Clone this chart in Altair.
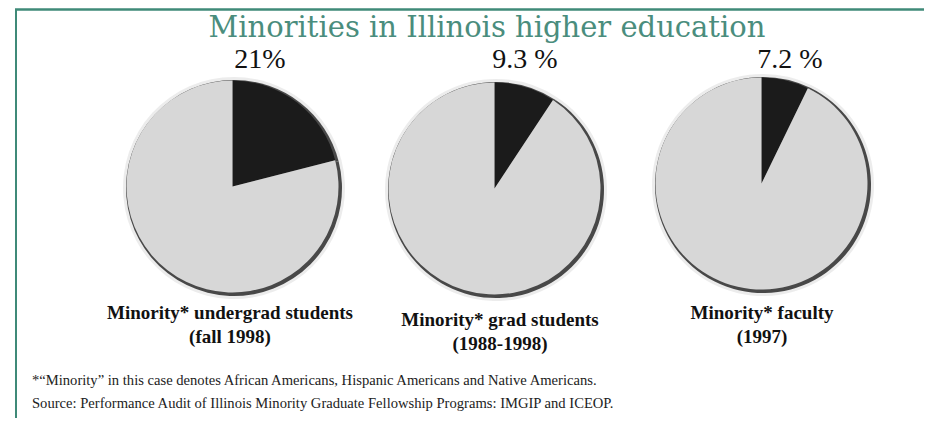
import altair as alt
import pandas as pd

# ---- data ----
groups = ["undergrad", "grad", "faculty"]
minority_pct = [21.0, 9.3, 7.2]
pct_labels = ["21%", "9.3 %", "7.2 %"]
caption_line1 = ["Minority* undergrad students", "Minority* grad students", "Minority* faculty"]
caption_line2 = ["(fall 1998)", "(1988-1998)", "(1997)"]
title_text = "Minorities in Illinois higher education"
foot1 = "*\u201cMinority\u201d in this case denotes African Americans, Hispanic Americans and Native Americans."
foot2 = "Source: Performance Audit of Illinois Minority Graduate Fellowship Programs: IMGIP and ICEOP."

rows = []
for g, p in zip(groups, minority_pct):
    rows.append({"group": g, "part": "Minority", "value": p, "ord": 0})
    rows.append({"group": g, "part": "Other", "value": 100 - p, "ord": 1})
pie_df = pd.DataFrame(rows)
lab_df = pd.DataFrame({"group": groups, "pct": pct_labels,
                       "cap": [a + "\n" + b for a, b in zip(caption_line1, caption_line2)]})
one = pd.DataFrame({"k": [0]})

# ---- layout (chart coords) ----
centers = {"undergrad": (225, 179), "grad": (487, 181), "faculty": (754, 176)}
pct_pos = {"undergrad": (252, 52), "grad": (517, 52), "faculty": (782, 52)}
cap_pos = {"undergrad": (222, 305), "grad": (492, 312), "faculty": (754, 305)}
R = 107
TEAL = "#3f8a78"

layers = []
# border lines
layers.append(alt.Chart(one).mark_rule(color=TEAL, strokeWidth=2.5).encode(
    x=alt.value(7), x2=alt.value(916), y=alt.value(1.5)))
layers.append(alt.Chart(one).mark_rule(color=TEAL, strokeWidth=2).encode(
    x=alt.value(8), y=alt.value(1), y2=alt.value(410)))

# title
layers.append(alt.Chart(one).mark_text(
    text=title_text, font="DejaVu Serif", fontSize=29, fontWeight=300, color="#4a8d7d",
    align="center", baseline="middle").encode(x=alt.value(479), y=alt.value(20)))

color_scale = alt.Scale(domain=["Minority", "Other"], range=["#1b1b1b", "#d7d7d7"])

for g in groups:
    cx, cy = centers[g]
    base = alt.Chart(pie_df).transform_filter(alt.datum.group == g)
    theta = alt.Theta("value:Q", stack=True, scale=alt.Scale(domain=[0, 100]))
    # halo
    layers.append(base.mark_arc(outerRadius=R + 4, opacity=0.35).encode(
        theta=theta, order=alt.Order("ord:Q"), color=alt.value("#c8c8c8"),
        x=alt.value(cx + 1), y=alt.value(cy + 1)))
    # rim shadow
    layers.append(base.mark_arc(outerRadius=R + 1).encode(
        theta=theta, order=alt.Order("ord:Q"), color=alt.value("#484848"),
        x=alt.value(cx + 1), y=alt.value(cy + 1)))
    # pie
    layers.append(base.mark_arc(outerRadius=R - 1).encode(
        theta=theta, order=alt.Order("ord:Q"),
        color=alt.Color("part:N", scale=color_scale, legend=None),
        x=alt.value(cx - 0.5), y=alt.value(cy - 0.5)))
    lb = alt.Chart(lab_df).transform_filter(alt.datum.group == g)
    px, py = pct_pos[g]
    layers.append(lb.mark_text(font="Liberation Serif", fontSize=28, color="#111",
                               align="center", baseline="middle").encode(
        text="pct:N", x=alt.value(px), y=alt.value(py)))
    qx, qy = cap_pos[g]
    layers.append(lb.mark_text(font="Liberation Serif", fontSize=19, fontWeight="bold",
                               color="#111", align="center", baseline="middle",
                               lineBreak="\n", lineHeight=24).encode(
        text="cap:N", x=alt.value(qx), y=alt.value(qy)))

# footnotes
layers.append(alt.Chart(one).mark_text(text=foot1, font="Liberation Serif", fontSize=14.6,
                                       color="#222", align="left", baseline="middle").encode(
    x=alt.value(24), y=alt.value(373)))
layers.append(alt.Chart(one).mark_text(text=foot2, font="Liberation Serif", fontSize=14.6,
                                       color="#222", align="left", baseline="middle").encode(
    x=alt.value(24), y=alt.value(396)))

chart = alt.layer(*layers).properties(
    width=916, height=410, padding=0, autosize="none"
).configure_view(stroke=None)

chart.save("out.html", embed_options={"renderer": "svg", "actions": False})
